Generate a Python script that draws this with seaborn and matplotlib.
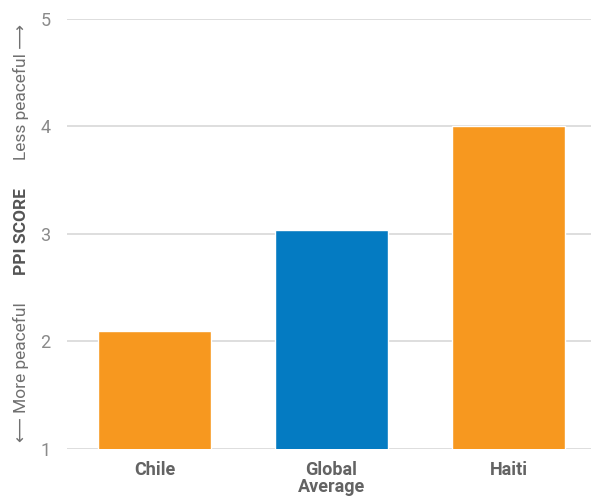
import matplotlib
matplotlib.use("Agg")
import matplotlib.pyplot as plt
import seaborn as sns
import pandas as pd

# data
categories = ["Chile", "Global\nAverage", "Haiti"]
ppi_scores = [2.1, 3.04, 4.0]
bar_colors = ["#F7981F", "#047BC2", "#F7981F"]
y_ticks = [1, 2, 3, 4, 5]

sns.set_style("white")
plt.rcParams['font.family'] = ['Roboto', 'DejaVu Sans']

df = pd.DataFrame({"country": categories, "score": ppi_scores})

fig = plt.figure(figsize=(5.91, 4.96), dpi=100)
ax = fig.add_axes([0.1134, 0.0948, 0.8866, 0.8669])

sns.barplot(data=df, x="country", y="score", hue="country",
            palette=bar_colors, width=0.64, legend=False, ax=ax,
            saturation=1, zorder=3)

ax.set_ylim(1, 5)
ax.set_xlim(-0.494, 2.466)
ax.set_yticks(y_ticks)
ax.yaxis.grid(True, color="#d4d4d4", linewidth=1.1, zorder=0)
ax.set_axisbelow(True)
sns.despine(ax=ax, left=True, bottom=True)
ax.set_xlabel("")
ax.set_ylabel("")
ax.tick_params(axis="y", length=0, pad=12, labelsize=13, labelcolor="#8a8a8a")
ax.tick_params(axis="x", length=0, pad=9, labelsize=13, labelcolor="#636363")
for lbl in ax.get_xticklabels():
    lbl.set_fontweight("bold")
    lbl.set_linespacing(0.9)

# rotated y-axis label pieces
fig.text(0.036, 1 - 372 / 496, "\u27f5 More peaceful", rotation=90, ha="center", va="center",
         fontsize=12.5, color="#707070")
fig.text(0.036, 1 - 232 / 496, "PPI SCORE", rotation=90, ha="center", va="center",
         fontsize=12.5, color="#555555", fontweight="bold")
fig.text(0.036, 1 - 92 / 496, "Less peaceful \u27f6", rotation=90, ha="center", va="center",
         fontsize=12.5, color="#707070")

fig.savefig("out.png", dpi=100)
